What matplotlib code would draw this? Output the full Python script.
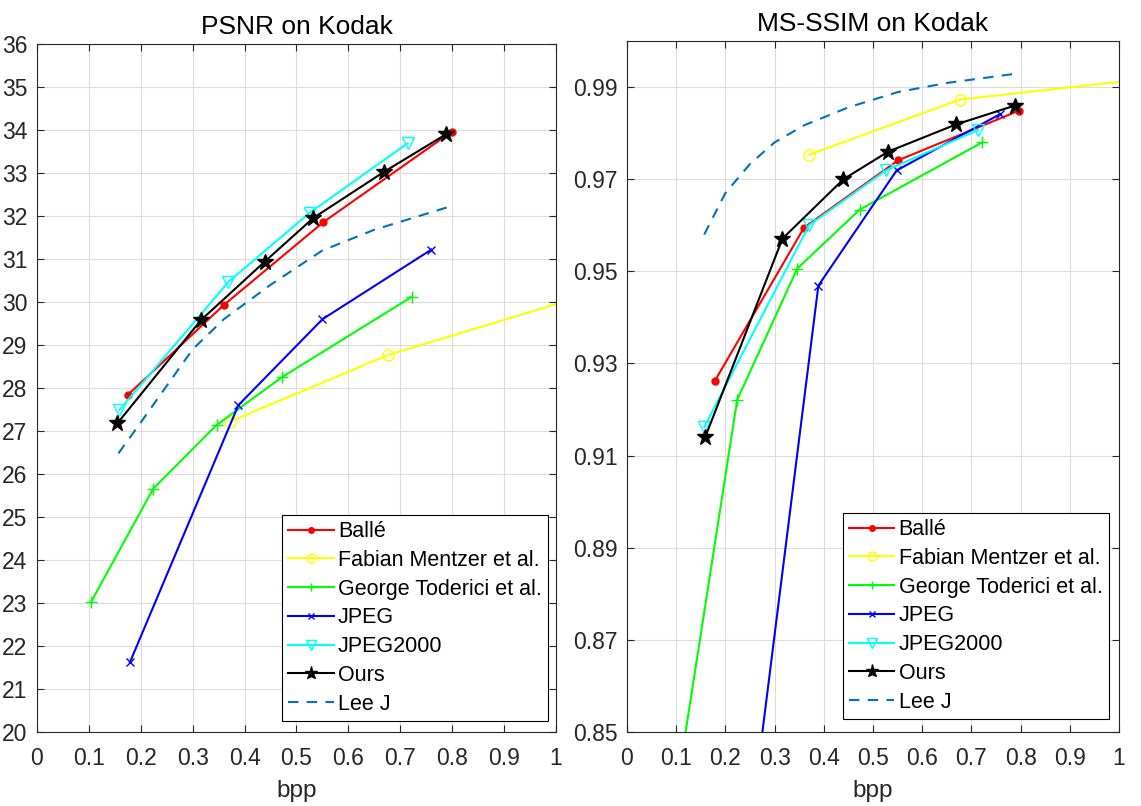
# rate-distortion curves on Kodak: PSNR and MS-SSIM vs bpp

import numpy as np
import matplotlib
matplotlib.use("Agg")
import matplotlib.pyplot as plt

plt.rcParams['font.family'] = ['Liberation Sans', 'DejaVu Sans']

# ---- data ----
balle_bpp = [0.175, 0.36, 0.552, 0.799]
balle_psnr = [27.84, 29.93, 31.86, 33.96]
balle_bpp_ms = [0.179, 0.36, 0.551, 0.797]
balle_ms = [0.9263, 0.9595, 0.9741, 0.9849]

mentzer_bpp = [0.372, 0.677, 1.2]
mentzer_psnr = [27.22, 28.77, 30.68]
mentzer_bpp_ms = [0.37, 0.677, 1.2]
mentzer_ms = [0.9753, 0.9873, 0.9935]

toderici_bpp = [0.104, 0.224, 0.346, 0.473, 0.722]
toderici_psnr = [23.02, 25.66, 27.14, 28.26, 30.12]
toderici_ms = [0.8396, 0.9221, 0.9506, 0.9634, 0.978]

jpeg_bpp = [0.179, 0.388, 0.55, 0.76]
jpeg_psnr = [21.62, 27.6, 29.6, 31.22]
jpeg_bpp_ms = [0.179, 0.389, 0.548, 0.758]
jpeg_ms = [0.768, 0.9469, 0.9719, 0.9841]

j2k_bpp = [0.159, 0.369, 0.526, 0.714]
j2k_psnr = [27.49, 30.47, 32.08, 33.69]
j2k_bpp_ms = [0.157, 0.37, 0.526, 0.714]
j2k_ms = [0.9162, 0.96, 0.9719, 0.9807]

ours_bpp = [0.155, 0.316, 0.439, 0.532, 0.669, 0.788]
ours_psnr = [27.18, 29.58, 30.94, 31.95, 33.03, 33.9]
ours_bpp_ms = [0.159, 0.316, 0.44, 0.531, 0.669, 0.789]
ours_ms = [0.914, 0.9571, 0.97, 0.976, 0.9819, 0.986]

lee_bpp = [0.157, 0.2, 0.25, 0.3, 0.36, 0.45, 0.55, 0.65, 0.79]
lee_psnr = [26.48, 27.2, 28.05, 28.9, 29.6, 30.4, 31.2, 31.68, 32.2]
lee_ms = [0.958, 0.967, 0.9733, 0.978, 0.9817, 0.9856, 0.9889, 0.9909, 0.9929]

fig = plt.figure(figsize=(11.41, 8.06), dpi=100)
ax1 = fig.add_axes([0.0324, 0.0918, 0.4549, 0.8536])
ax2 = fig.add_axes([0.5495, 0.0918, 0.4312, 0.8573])

lw = 1.5
txt = '#262626'


def draw(ax, series):
    for x, y, kw in series:
        ax.plot(x, y, linewidth=lw, **kw)


s1 = [
    (balle_bpp, balle_psnr, dict(color='red', marker='.', markersize=10, label='Ballé')),
    (mentzer_bpp, mentzer_psnr, dict(color='#FFFF00', marker='o', markersize=8, markerfacecolor='none', label='Fabian Mentzer et al.')),
    (toderici_bpp, toderici_psnr, dict(color='#00FF00', marker='+', markersize=8, label='George Toderici et al.')),
    (jpeg_bpp, jpeg_psnr, dict(color='#0000FF', marker='x', markersize=6, label='JPEG')),
    (j2k_bpp, j2k_psnr, dict(color='cyan', marker='v', markersize=9, markerfacecolor='none', label='JPEG2000')),
    (ours_bpp, ours_psnr, dict(color='black', marker='*', markersize=12, label='Ours')),
    (lee_bpp, lee_psnr, dict(color='#0072BD', linestyle=(0, (5, 4)), label='Lee J')),
]
s2 = [
    (balle_bpp_ms, balle_ms, dict(color='red', marker='.', markersize=10, label='Ballé')),
    (mentzer_bpp_ms, mentzer_ms, dict(color='#FFFF00', marker='o', markersize=8, markerfacecolor='none', label='Fabian Mentzer et al.')),
    (toderici_bpp, toderici_ms, dict(color='#00FF00', marker='+', markersize=8, label='George Toderici et al.')),
    (jpeg_bpp_ms, jpeg_ms, dict(color='#0000FF', marker='x', markersize=6, label='JPEG')),
    (j2k_bpp_ms, j2k_ms, dict(color='cyan', marker='v', markersize=9, markerfacecolor='none', label='JPEG2000')),
    (ours_bpp_ms, ours_ms, dict(color='black', marker='*', markersize=12, label='Ours')),
    (lee_bpp, lee_ms, dict(color='#0072BD', linestyle=(0, (5, 4)), label='Lee J')),
]

draw(ax1, s1)
draw(ax2, s2)

ax1.set_xlim(0, 1)
ax1.set_ylim(20, 36)
ax1.set_yticks(np.arange(20, 37, 1))
ax1.set_title("PSNR on Kodak", fontsize=19, color='black', pad=7)

ax2.set_xlim(0, 1)
ax2.set_ylim(0.85, 1.0)
ax2.set_yticks(np.arange(0.85, 0.995, 0.02))
ax2.set_yticklabels(["%.2f" % v for v in np.arange(0.85, 0.995, 0.02)])
ax2.set_title("MS-SSIM on Kodak", fontsize=19, color='black', pad=7)

# legend placement in pixels from the lower right corner of each axes
leg_gap = {ax1: (7.7, 11), ax2: (10, 13)}

for ax in (ax1, ax2):
    ax.set_xticks(np.arange(0, 1.01, 0.1))
    ax.set_xticklabels(['0'] + ["%.1f" % v for v in np.arange(0.1, 0.95, 0.1)] + ['1'])
    ax.set_xlabel("bpp", fontsize=17.5, color=txt, labelpad=7)
    ax.grid(True, color='#dcdcdc', linewidth=0.8)
    ax.set_axisbelow(True)
    ax.tick_params(direction='in', top=True, right=True, labelsize=16.5,
                   colors=txt, length=5, width=0.8)
    ax.tick_params(axis='x', pad=11)
    ax.tick_params(axis='y', pad=7)
    for sp in ax.spines.values():
        sp.set_color(txt)
        sp.set_linewidth(0.8)
    bb = ax.get_position()
    wpx, hpx = bb.width * 1141, bb.height * 806
    gx, gy = leg_gap[ax]
    leg = ax.legend(loc='lower right', bbox_to_anchor=(1 - gx / wpx, gy / hpx),
                    borderaxespad=0, fontsize=15.5, fancybox=False,
                    edgecolor='black', framealpha=1, handlelength=2.1,
                    handletextpad=0.2, labelspacing=0.36, borderpad=0.3,
                    markerscale=0.8)
    leg.get_frame().set_linewidth(0.8)

plt.savefig("out.png", dpi=100)
